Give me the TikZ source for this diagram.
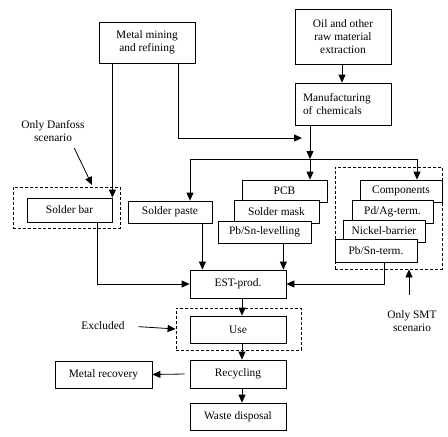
\documentclass[tikz,border=0pt]{standalone}
\usepackage{fontspec}
\setmainfont{Liberation Serif}
\usepackage{tikz}
\usetikzlibrary{positioning}
\usetikzlibrary{arrows.meta}
\usetikzlibrary{calc}
\tikzset{
	box/.style={draw, fill=white, line width=.8pt, inner sep=0pt, minimum width=96pt, minimum height=28pt, align=center},
	dashbox/.style={draw, line width=.8pt, dash pattern=on 3pt off 2pt, inner sep=0pt},
	arr/.style={line width=.8pt, -{Triangle[length=8pt,width=7pt]}},
	ln/.style={line width=.8pt}
}

\begin{document}
\begin{tikzpicture}[x=1pt, y=-1pt]
\fontsize{11.4}{12.8}\selectfont
\useasboundingbox (0,0) rectangle (448,437);

% dashed frames
\node (ldash) [dashbox, minimum width=107pt, minimum height=41pt] at (66.5,207.5) {};
\node (rdash) [dashbox, minimum width=107pt, minimum height=102pt] at (388.5,218) {};
\node (udash) [dashbox, minimum width=125pt, minimum height=42pt] at (238.5,329) {};

% raw materials
\node (metal) [box, minimum height=41pt] at (147,42.5) {Metal mining\\and refining};
\node (oil) [box, minimum height=55pt] at (343,36.5) {Oil and other\\raw material\\extraction};
\node (manuf) 
	[box, minimum height=42pt, text width=80pt, align=left] at (343,104)
	{Manufacturing\\of chemicals};

% materials
\node (solderbar) [box, minimum width=85pt, minimum height=24pt] at (69.5,210) {Solder bar};
\node (paste) [box, minimum width=84pt, minimum height=22pt] at (170,212) {Solder paste};

\node (pcb) [box, minimum width=85pt, minimum height=22pt] at (284.5,191) {PCB};
\node (mask) [box, minimum width=85pt, minimum height=23pt] at (276.5,211.5) {Solder mask};
\node (level) [box, minimum width=93pt, minimum height=22pt] at (264.5,232) {Pb/Sn-levelling};

\node (comp) [box, minimum width=82pt, minimum height=22pt] at (401,191) {Components};
\node (pdag) [box, minimum width=81pt, minimum height=23pt] at (392.5,211.5) {Pd/Ag-term.};
\node (nickel) [box, minimum width=82pt, minimum height=22pt] at (384,231) {Nickel-barrier};
\node (pbsn) [box, minimum width=82pt, minimum height=23pt] at (376,250.5) {Pb/Sn-term.};

% life cycle
\node (est) [box] at (238,284) {EST-prod.};
\node (use) [box, minimum height=27pt] at (238,329.5) {Use};
\node (recyc) [box] at (238,374) {Recycling};
\node (metalrec) [box, minimum width=97pt, minimum height=27pt] at (103.5,374.5) {Metal recovery};
\node (waste) [box, minimum height=27pt] at (238,416.5) {Waste disposal};

% notes
\node (danfoss) [align=center] at (53,131) {Only Danfoss\\scenario};
\node (excluded) at (103,326) {Excluded};
\node (smt) [align=center] at (412,321) {Only SMT\\scenario};

\coordinate (jl) at (190,159);
\coordinate (j1) at (310,159);
\coordinate (jr) at (417,159);
\coordinate (dtip) at (92,185);

% connectors
\draw[arr] (oil.south -| 342,0) -- (manuf.north -| 342,0);
\draw[arr] (metal.south -| solderbar.north east) -- (solderbar.north east);
\draw[arr] ([xshift=-17pt]metal.south east) |- ([xshift=-8pt]j1 |- 0,138);
\draw[arr] (manuf.south -| j1) -- (j1);
\draw[ln] (jl) -- (jr);
\draw[arr] (jl) -- (paste.north -| jl);
\draw[arr] (j1) -- (pcb.north -| j1);
\draw[arr] (jr) -- (comp.north -| jr);

\draw[arr] ([xshift=-15pt]solderbar.south east) |- (est.west);
\draw[arr] ([xshift=-10pt]paste.south east) -- ([xshift=-10pt]paste.south east |- est.north);
\draw[arr] ([xshift=-3pt]est.north east |- level.south) -- ([xshift=-3pt]est.north east);
\draw[arr] ([xshift=8pt]pbsn.south) |- (est.east);

\draw[arr] ([xshift=4pt]est.south) -- ([xshift=4pt]use.north);
\draw[arr] ([xshift=4pt]use.south) -- ([xshift=4pt]recyc.north);
\draw[arr] ([xshift=4pt]recyc.south) -- ([xshift=4pt]waste.north);
\draw[arr] ([xshift=-5pt]recyc.west) -- (metalrec.east);

\draw[arr, shorten <=10pt] (excluded.east) -- (udash.west);
\draw[arr, shorten <=12pt] ([xshift=-3pt]smt.north) -- ([xshift=-3pt]smt.north |- rdash.south);
\draw[arr, shorten <=3pt] ([xshift=20pt]danfoss.south) -- (dtip);
\end{tikzpicture}
\end{document}
